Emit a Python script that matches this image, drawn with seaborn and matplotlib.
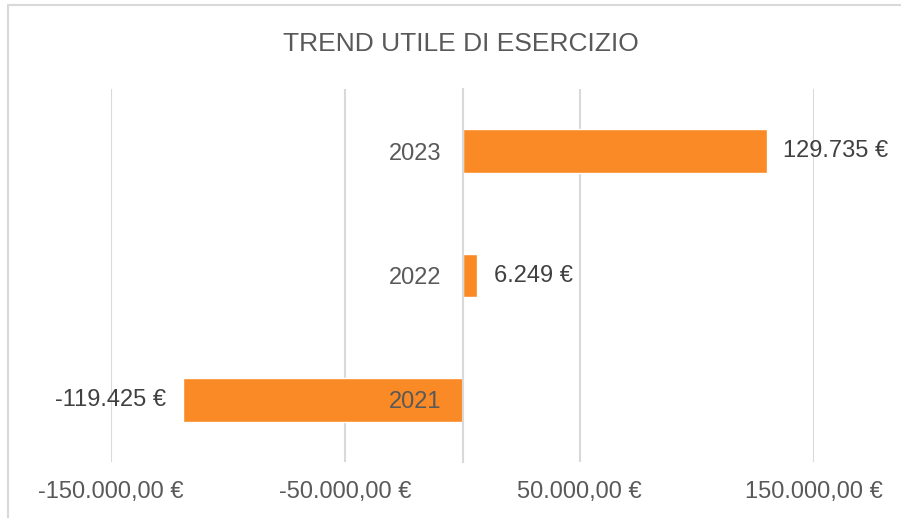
import matplotlib
matplotlib.use("Agg")
import matplotlib.pyplot as plt
import seaborn as sns
import pandas as pd
from matplotlib.patches import Rectangle

# data
years = ["2023", "2022", "2021"]
utile = [129735, 6249, -119425]
xticks = [-150000, -50000, 50000, 150000]

df = pd.DataFrame({"Anno": years, "Utile": utile})

sns.set_style("white")
plt.rcParams['font.family'] = ['Liberation Sans', 'DejaVu Sans']

fig = plt.figure(figsize=(9.01, 5.18), dpi=100)
ax = fig.add_axes([111 / 901, 1 - 462 / 518, (814 - 111) / 901, (462 - 89) / 518])

sns.barplot(data=df, x="Utile", y="Anno", orient="h", color="#F98A25",
            saturation=1, width=0.35, ax=ax)

ax.set_xlim(-150000, 150000)
ax.set_ylim(2.5, -0.5)
ax.set_xticks(xticks)
ax.set_xticklabels([f"{v:,.2f} €".replace(",", "X").replace(".", ",").replace("X", ".")
                    for v in xticks])
ax.tick_params(axis="x", length=0, pad=14, labelsize=17, labelcolor="#595959")
ax.tick_params(axis="y", length=0, pad=15, labelsize=17, labelcolor="#595959")
ax.grid(axis="x", color="#D9D9D9", linewidth=1.5)
ax.set_axisbelow(True)
ax.yaxis.set_zorder(5)

for s in ["top", "right", "bottom"]:
    ax.spines[s].set_visible(False)
ax.spines["left"].set_position(("data", 0))
ax.spines["left"].set_color("#D9D9D9")
ax.spines["left"].set_linewidth(1.5)
ax.set_xlabel("")
ax.set_ylabel("")

ax.bar_label(ax.containers[0],
             labels=[f"{v:,.0f} €".replace(",", ".") for v in utile],
             padding=12, fontsize=17, color="#404040", clip_on=False)

fig.text(461 / 901, 1 - 44 / 518, "TREND UTILE DI ESERCIZIO", ha="center", va="center",
         fontsize=19, color="#595959")

fig.patches.append(Rectangle((8 / 901, -0.1), 1.1, 1.1 - 5 / 518, transform=fig.transFigure,
                             fill=False, edgecolor="#D9D9D9", linewidth=1.5))

fig.savefig("out.png", dpi=100)
